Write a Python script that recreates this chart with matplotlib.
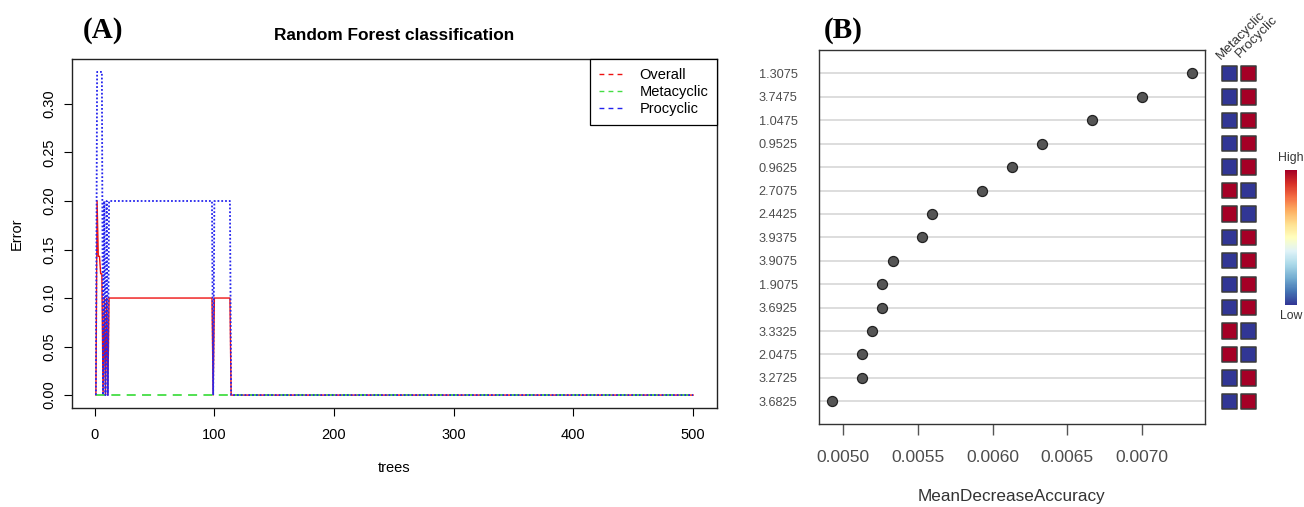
import numpy as np
import matplotlib
matplotlib.use("Agg")
import matplotlib.pyplot as plt
from matplotlib.lines import Line2D
from matplotlib.cm import ScalarMappable
from matplotlib.colors import Normalize

# ---------------- Panel A data (OOB error by number of trees, run-length read) ----
run_lengths = [1, 1, 2, 2, 1, 1, 1, 1, 1, 87, 1, 14, 387]
overall_err = [0, 0.2, 0.143, 0.125, 0, 0.1, 0, 0.1, 0, 0.1, 0, 0.1, 0]
metacyclic_err = [0, 0, 0, 0, 0, 0, 0, 0, 0, 0, 0, 0, 0]
procyclic_err = [0, 0.333, 0.333, 0.333, 0, 0.2, 0, 0.2, 0, 0.2, 0, 0.2, 0]
series_names = ["Overall", "Metacyclic", "Procyclic"]
x_ticks_a = [0, 100, 200, 300, 400, 500]
y_ticks_a = [0.00, 0.05, 0.10, 0.15, 0.20, 0.25, 0.30]

# ---------------- Panel B data ----------------
features = ["1.3075", "3.7475", "1.0475", "0.9525", "0.9625", "2.7075", "2.4425",
            "3.9375", "3.9075", "1.9075", "3.6925", "3.3325", "2.0475", "3.2725", "3.6825"]
mean_decrease_accuracy = [0.007335, 0.00700, 0.006667, 0.006333, 0.006133, 0.005933,
                          0.005598, 0.00553, 0.005333, 0.005265, 0.005265, 0.005198,
                          0.00513, 0.00513, 0.00493]
metacyclic_level = [0, 0, 0, 0, 0, 1, 1, 0, 0, 0, 0, 1, 1, 0, 0]
procyclic_level = [1, 1, 1, 1, 1, 0, 0, 1, 1, 1, 1, 0, 0, 1, 1]
heat_columns = ["Metacyclic", "Procyclic"]
x_ticks_b = [0.0050, 0.0055, 0.0060, 0.0065, 0.0070]

plt.rcParams['font.family'] = ['Liberation Sans', 'DejaVu Sans']

W, H = 1304, 507
fig = plt.figure(figsize=(W / 100, H / 100), dpi=100)


def rect(x0, y0, x1, y1):
    return [x0 / W, 1 - y1 / H, (x1 - x0) / W, (y1 - y0) / H]


# ================= Panel A =================
axA = fig.add_axes(rect(72, 59, 717, 408))
trees = np.arange(1, sum(run_lengths) + 1)
overall = np.repeat(overall_err, run_lengths)
meta = np.repeat(metacyclic_err, run_lengths)
pro = np.repeat(procyclic_err, run_lengths)

axA.plot(trees, overall, color='#EE1111', lw=1.0, ls='-')
axA.plot(trees, meta, color='#44DD44', lw=1.3, ls=(0, (5, 3.5)))
axA.plot(trees, pro, color='#2626EE', lw=1.3, ls=(0, (1, 1.1)))

ymax = max(procyclic_err)
axA.set_xlim(1 - 0.04 * 499, 500 + 0.04 * 499)
axA.set_ylim(-0.04 * ymax, ymax * 1.04)
axA.set_xticks(x_ticks_a)
axA.set_xticklabels([str(v) for v in x_ticks_a], fontsize=10.5)
axA.set_yticks(y_ticks_a)
axA.set_yticklabels([f"{v:.2f}" for v in y_ticks_a], fontsize=10.5,
                    rotation=90, va='center')
axA.tick_params(axis='both', length=5.5, width=0.8, color='black')
axA.tick_params(axis='x', pad=9)
axA.tick_params(axis='y', pad=6)
for s in axA.spines.values():
    s.set_linewidth(1.0)
    s.set_color('#222222')
axA.set_title("Random Forest classification", fontsize=12.4, fontweight='bold', pad=14)
axA.set_xlabel("trees", fontsize=10.5)
axA.xaxis.set_label_coords(0.5, (408 - 468) / 349)
axA.xaxis.label.set_va('center')
axA.set_ylabel("Error", fontsize=10.5)
axA.yaxis.set_label_coords((16.5 - 72) / 645, 0.5)
axA.yaxis.label.set_va('center')

handles = [Line2D([], [], color=c, lw=1.0, ls=(0, (3.5, 3))) for c in ['#EE1111', '#44DD44', '#2222EE']]
leg = axA.legend(handles, series_names, loc='upper right', bbox_to_anchor=(1, 1),
                 borderaxespad=0, fancybox=False, framealpha=1, edgecolor='black',
                 fontsize=10.5, handlelength=1.8, handletextpad=1.0,
                 labelspacing=0.22, borderpad=0.6)
leg.get_frame().set_linewidth(0.9)

fig.text(103 / W, 1 - 30 / H, "(A)", fontsize=21, fontweight='bold',
         family='Liberation Serif', ha='center', va='center')

# ================= Panel B =================
n = len(features)
ypos = np.arange(n, 0, -1)
axB = fig.add_axes(rect(818.5, 50, 1205, 424))
axB.scatter(mean_decrease_accuracy, ypos, s=52, facecolor='#555555',
            edgecolor='#222222', linewidth=0.9, zorder=3)
axB.set_ylim(0.03, n + 1.0)
axB.set_xlim(0.004838, 0.007419)
axB.set_yticks(ypos)
axB.set_yticklabels(features, fontsize=9.2, color='#4D4D4D')
axB.set_xticks(x_ticks_b)
axB.set_xticklabels([f"{v:.4f}" for v in x_ticks_b], fontsize=12.5, color='#4D4D4D')
axB.tick_params(axis='y', length=0, pad=15)
axB.tick_params(axis='x', length=8, width=1.0, color='#555555', pad=11)
axB.yaxis.grid(True, color='#DADADA', lw=1.3)
axB.set_axisbelow(True)
for s in axB.spines.values():
    s.set_linewidth(1.0)
    s.set_color('#333333')
axB.set_xlabel("MeanDecreaseAccuracy", fontsize=12.3, color='#333333')
axB.xaxis.set_label_coords(0.5, (424 - 497) / 374)
axB.xaxis.label.set_va('center')

fig.text(843 / W, 1 - 30 / H, "(B)", fontsize=21, fontweight='bold',
         family='Liberation Serif', ha='center', va='center')

# heat map of class levels
cmap = plt.get_cmap('RdYlBu_r')
axH = fig.add_axes(rect(1219.8, 50, 1257.8, 424))
axH.set_xlim(0.5, 2.5)
axH.set_ylim(0.03, n + 1.0)
for j, levels in enumerate([metacyclic_level, procyclic_level]):
    axH.scatter(np.full(n, j + 1), ypos, marker='s', s=122,
                c=[cmap(0.999 if v else 0.0) for v in levels],
                edgecolor='#3a3a3a', linewidth=1.1)
axH.axis('off')
for j, name in enumerate(heat_columns):
    axH.text(j + 0.68, n + 0.5 + 0.07 * j, name, rotation=45, rotation_mode='anchor',
             ha='left', va='bottom', fontsize=9.6, color='#333333', clip_on=False)

# colour key
cax = fig.add_axes(rect(1285, 170, 1297, 305))
cb = fig.colorbar(ScalarMappable(norm=Normalize(0, 1), cmap=cmap), cax=cax)
cb.outline.set_visible(False)
cb.set_ticks([])
fig.text(1291 / W, 1 - 158 / H, "High", fontsize=8.8, color='#333333', ha='center', va='center')
fig.text(1291 / W, 1 - 316 / H, "Low", fontsize=8.8, color='#333333', ha='center', va='center')

fig.savefig("out.png", dpi=100)
